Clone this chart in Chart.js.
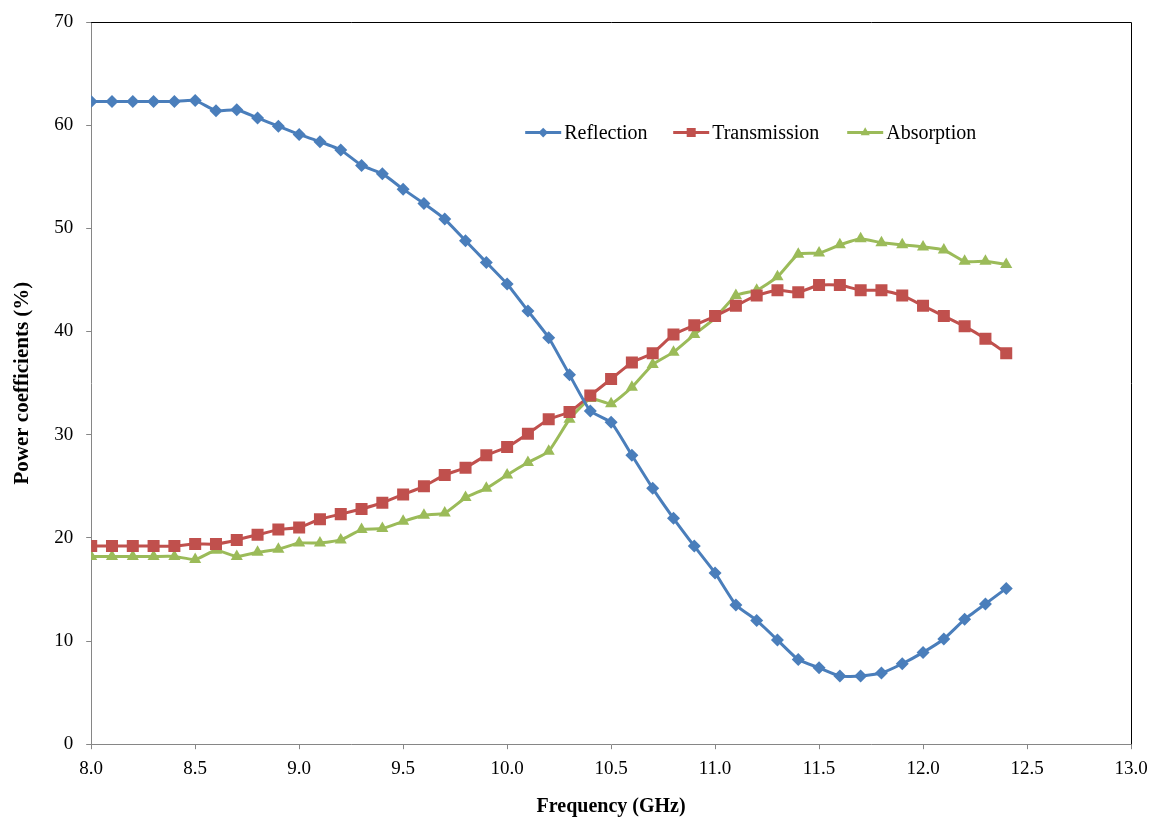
<!DOCTYPE html>
<html>
<head>
<meta charset="utf-8">
<script src="https://cdn.jsdelivr.net/npm/chart.js@4.4.1/dist/chart.umd.min.js"></script>
<style>
  html, body { margin: 0; padding: 0; background: #fff; overflow: hidden; }
  #wrap { width: 1149px; height: 819px; position: relative; }
</style>
</head>
<body>
<div id="wrap"><canvas id="c" width="1149" height="819"></canvas></div>
<script>
// Frequency sweep (GHz)
const frequency = [8.0, 8.1, 8.2, 8.3, 8.4, 8.5, 8.6, 8.7, 8.8, 8.9,
                   9.0, 9.1, 9.2, 9.3, 9.4, 9.5, 9.6, 9.7, 9.8, 9.9,
                   10.0, 10.1, 10.2, 10.3, 10.4, 10.5, 10.6, 10.7, 10.8, 10.9,
                   11.0, 11.1, 11.2, 11.3, 11.4, 11.5, 11.6, 11.7, 11.8, 11.9,
                   12.0, 12.1, 12.2, 12.3, 12.4];

// Power coefficients (%)
const reflection = [62.3, 62.3, 62.3, 62.3, 62.3, 62.4, 61.4, 61.5, 60.7, 59.9,
                    59.1, 58.4, 57.6, 56.1, 55.3, 53.8, 52.4, 50.9, 48.8, 46.7,
                    44.6, 42.0, 39.4, 35.8, 32.3, 31.2, 28.0, 24.8, 21.9, 19.2,
                    16.6, 13.5, 12.0, 10.1, 8.2, 7.4, 6.6, 6.6, 6.9, 7.8,
                    8.9, 10.2, 12.1, 13.6, 15.1];

const transmission = [19.2, 19.2, 19.2, 19.2, 19.2, 19.4, 19.4, 19.8, 20.3, 20.8,
                      21.0, 21.8, 22.3, 22.8, 23.4, 24.2, 25.0, 26.1, 26.8, 28.0,
                      28.8, 30.1, 31.5, 32.2, 33.8, 35.4, 37.0, 37.9, 39.7, 40.6,
                      41.5, 42.5, 43.5, 44.0, 43.8, 44.5, 44.5, 44.0, 44.0, 43.5,
                      42.5, 41.5, 40.5, 39.3, 37.9];

const absorption = [18.2, 18.2, 18.2, 18.2, 18.2, 17.9, 18.8, 18.2, 18.6, 18.9,
                    19.5, 19.5, 19.8, 20.8, 20.9, 21.6, 22.2, 22.4, 23.9, 24.8,
                    26.1, 27.3, 28.4, 31.5, 33.5, 33.0, 34.6, 36.8, 38.0, 39.7,
                    41.3, 43.5, 44.0, 45.3, 47.5, 47.6, 48.4, 49.0, 48.6, 48.4,
                    48.2, 47.9, 46.8, 46.8, 46.5];

const seriesNames = ['Reflection', 'Transmission', 'Absorption'];
const seriesColors = ['#4a7ebb', '#c0504d', '#9bbb59'];
const seriesMarkers = ['rectRot', 'rect', 'triangle'];
const markerRadius = [6.5, 8.5, 7];

const SERIF = '"Liberation Serif", "Times New Roman", serif';

function toPoints(values) {
  return frequency.map((f, i) => ({ x: f, y: values[i] }));
}

const datasets = [reflection, transmission, absorption].map((vals, i) => ({
  label: seriesNames[i],
  data: toPoints(vals),
  borderColor: seriesColors[i],
  backgroundColor: seriesColors[i],
  borderWidth: 3,
  pointStyle: seriesMarkers[i],
  pointRadius: markerRadius[i],
  pointBorderWidth: 0,
  pointBackgroundColor: seriesColors[i],
  tension: 0.15,
  fill: false
}));

// Black frame on the top and right edges of the plot area
const framePlugin = {
  id: 'frame',
  afterDraw(chart) {
    const { ctx, chartArea: a } = chart;
    ctx.save();
    ctx.strokeStyle = '#000';
    ctx.lineWidth = 1;
    ctx.beginPath();
    ctx.moveTo(a.left, a.top + 0.5);
    ctx.lineTo(a.right + 0.5, a.top + 0.5);
    ctx.lineTo(a.right + 0.5, a.bottom);
    ctx.stroke();
    ctx.restore();
  }
};

// Legend drawn inside the plot area: line sample with marker, then label
const insideLegend = {
  id: 'insideLegend',
  afterDraw(chart) {
    const { ctx, chartArea: a } = chart;
    const y = a.top + 110.5;
    const starts = [434, 582, 756];
    ctx.save();
    ctx.font = '20px ' + SERIF;
    ctx.textBaseline = 'middle';
    chart.data.datasets.forEach((ds, i) => {
      const x0 = a.left + starts[i];
      const x1 = x0 + 36;
      ctx.strokeStyle = ds.borderColor;
      ctx.lineWidth = 3;
      ctx.beginPath();
      ctx.moveTo(x0, y);
      ctx.lineTo(x1, y);
      ctx.stroke();
      ctx.fillStyle = ds.borderColor;
      Chart.helpers.drawPoint(ctx, {
        pointStyle: ds.pointStyle,
        radius: ds.pointRadius * 0.75,
        rotation: 0,
        borderWidth: 0
      }, (x0 + x1) / 2, y);
      ctx.fillStyle = '#000';
      ctx.fillText(ds.label, x1 + 3, y + 1);
    });
    ctx.restore();
  }
};

new Chart(document.getElementById('c'), {
  type: 'line',
  data: { datasets },
  plugins: [framePlugin, insideLegend],
  options: {
    responsive: false,
    animation: false,
    layout: { padding: { left: 10, right: 0, top: 22, bottom: 0 } },
    plugins: {
      legend: { display: false },
      tooltip: { enabled: false }
    },
    scales: {
      x: {
        type: 'linear',
        min: 8,
        max: 13,
        afterFit(scale) { scale.paddingRight = 18; },
        ticks: {
          stepSize: 0.5,
          color: '#000',
          font: { family: SERIF, size: 19 },
          padding: 8,
          maxRotation: 0,
          callback: v => Number(v).toFixed(1)
        },
        grid: {
          display: true,
          drawOnChartArea: false,
          drawTicks: true,
          tickLength: 5,
          color: '#868686'
        },
        border: { display: true, color: '#868686', width: 1 },
        title: {
          display: true,
          text: 'Frequency (GHz)',
          color: '#000',
          font: { family: SERIF, size: 20, weight: 'bold' },
          padding: { top: 7, bottom: 0 }
        }
      },
      y: {
        min: 0,
        max: 70,
        afterFit(scale) { scale.paddingTop = 0; scale.paddingBottom = 0; },
        ticks: {
          stepSize: 10,
          color: '#000',
          font: { family: SERIF, size: 19 },
          padding: 13
        },
        grid: {
          display: true,
          drawOnChartArea: false,
          drawTicks: true,
          tickLength: 5,
          color: '#868686'
        },
        border: { display: true, color: '#868686', width: 1 },
        title: {
          display: true,
          text: 'Power coefficients (%)',
          color: '#000',
          font: { family: SERIF, size: 21, weight: 'bold' },
          padding: { top: 0, bottom: 6 }
        }
      }
    }
  }
});
</script>
</body>
</html>
